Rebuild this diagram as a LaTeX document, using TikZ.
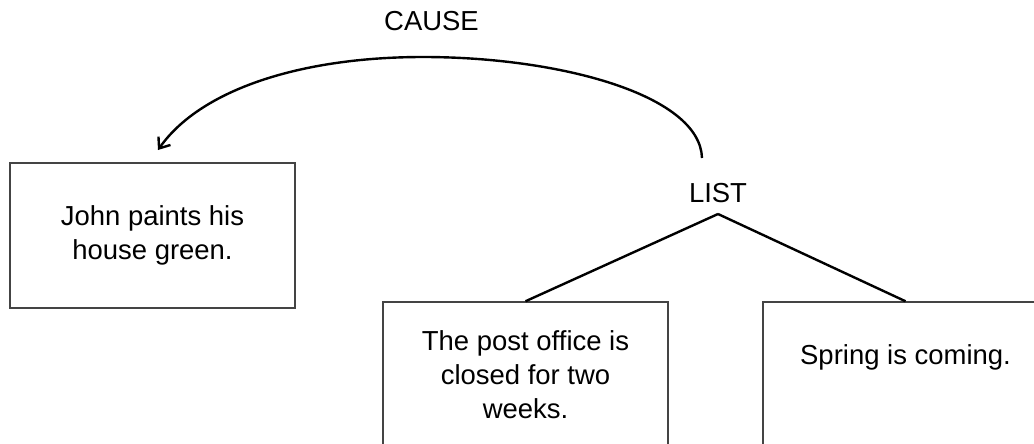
\documentclass[tikz,border=0pt]{standalone}
\usepackage{fontspec}
\setmainfont{Liberation Sans}
\usetikzlibrary{arrows.meta}

\begin{document}
\begin{tikzpicture}[x=0.75pt,y=0.75pt,yscale=-1,xscale=1,
  unitbox/.style={draw={rgb, 255:red, 68; green, 68; blue, 68}, line width=1.1pt,
    minimum width=213.75pt, minimum height=108.75pt, inner sep=0pt, align=center,
    font=\fontsize{20.6}{25.5}\selectfont},
  rellabel/.style={inner sep=0pt, font=\fontsize{20.6}{25.5}\selectfont},
  treeline/.style={line width=1.8pt},
  causeline/.style={line width=1.8pt, -{Straight Barb[length=7pt,width=11pt]}}]
%set diagram to 1034 x 443 and cut off the boxes at the bottom / right
\clip (0,0) rectangle (1034,443);

% Boxes
\node[unitbox] (john) at (152.5,235.5) {John paints his\\house green.};
\node[unitbox] (post) at (525.5,374.5) {The post office is\\closed for two\\weeks.};
\node[unitbox] (spring) at (905.5,374.5) {Spring is coming.\\\vphantom{g}};

% Relation labels
\node[rellabel] (list) at (718,193) {LIST};
\node[rellabel] (cause) at (431.5,21) {CAUSE};

% Tree under LIST
\coordinate (fork) at (718,214);
\draw[treeline] (fork) -- (post.north);
\draw[treeline] (fork) -- (spring.north);

% Curve Lines: CAUSE arrow
\coordinate (causefrom) at (702,158);
\coordinate (causeto) at (158,150);
\draw[causeline] (causefrom) .. controls (700,95) and (560,57) .. (423,57) .. controls (300,57) and (200,90) .. (causeto);

\end{tikzpicture}
\end{document}
